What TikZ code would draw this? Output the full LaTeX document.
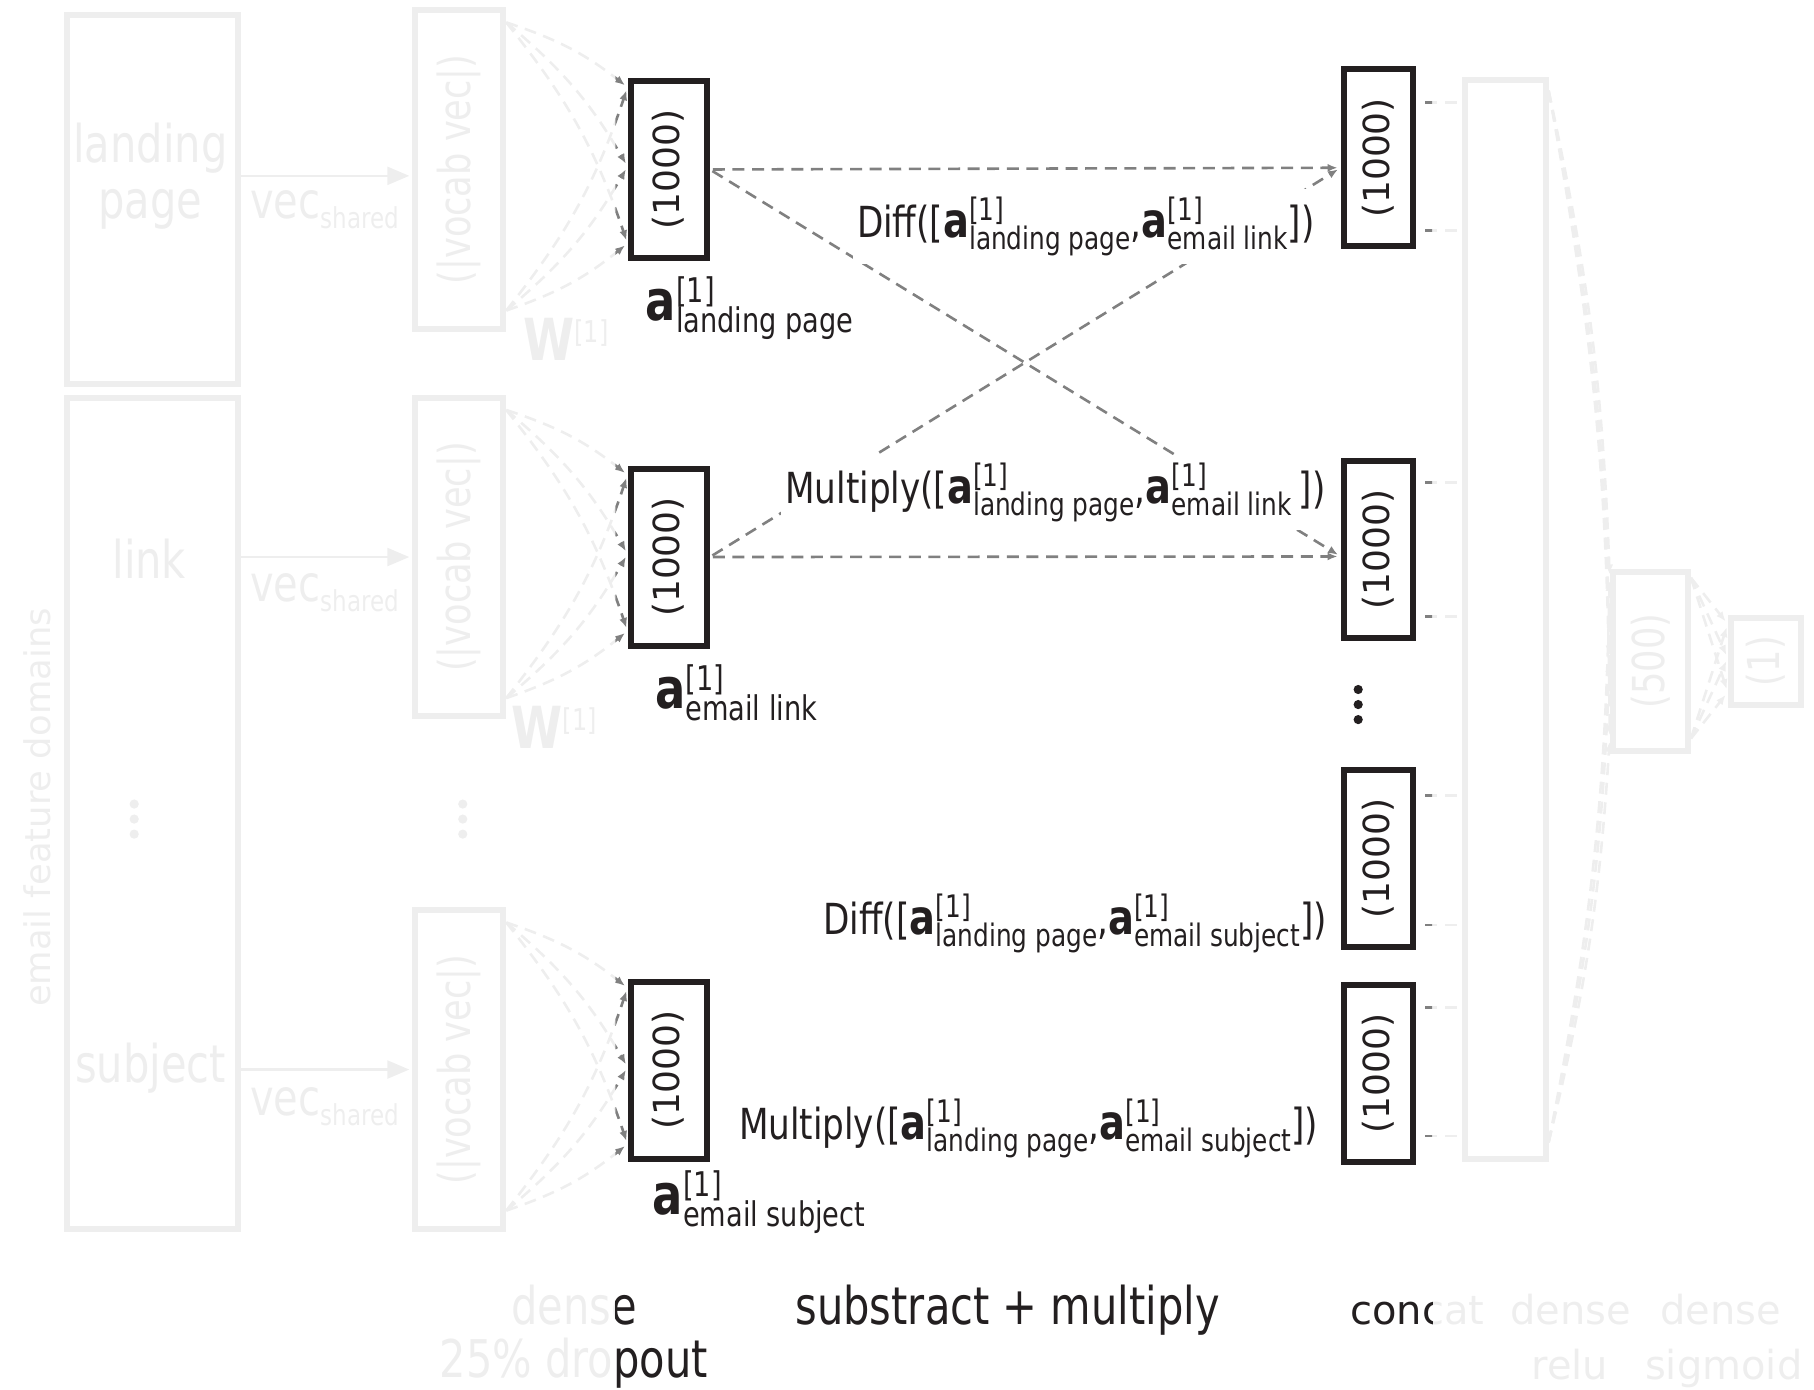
\documentclass[tikz,border=0pt]{standalone}
\usepackage{fontspec}
\usepackage{graphicx}
\setmainfont{DejaVu Sans}
\newfontfamily\cnd[FakeStretch=0.8]{DejaVu Sans}
\usetikzlibrary{calc,arrows.meta}
\newdimen\pxu \pxu=0.5785pt
\newcommand\fsz[1]{\fontsize{#1}{#1}\selectfont}
\definecolor{dk}{HTML}{231F20}
\definecolor{gl}{HTML}{808080}
\definecolor{fd}{HTML}{EEEEEE}
\definecolor{fdl}{HTML}{EEEEEE}
\colorlet{txc}{fd}\colorlet{bxc}{fd}\colorlet{dlc}{fdl}

\newcommand\asub[1]{{\cnd\bfseries\fsz{28}a}{\cnd\fsz{17}\rlap{\raisebox{9pt}{[1]}}\raisebox{-6pt}{#1}}}
\newcommand\ain[1]{{\bfseries\fsz{24}a}{\fsz{15.5}\rlap{\raisebox{8.5pt}{[1]}}\raisebox{-6pt}{#1}}}
\newcommand\oplab[3]{{\cnd\fsz{21.4}#1([\ain{landing page},\ain{#2}#3])}}
\newcommand\vocab{{\cnd\fsz{22}(|vocab vec|)}}
\newcommand\vecs{{\cnd\fsz{25}vec}{\cnd\fsz{14.4}\raisebox{-5pt}{shared}}}
\newcommand\wlab{{\cnd\bfseries\fsz{29}W}{\cnd\fsz{15}\raisebox{9pt}{[1]}}}
\newcommand\num[1]{\rotatebox{90}{\fsz{18}#1}}

\tikzset{
  bbox/.style={draw=bxc, line width=3pt, fill=white, inner sep=0pt, text=txc},
  txt/.style={inner sep=0pt, text=txc},
  lab/.style={fill=white, inner xsep=2pt, inner ysep=4pt, text=txc},
  dl/.style={draw=dlc, line width=1.3pt, dash pattern=on 6pt off 3.8pt},
  tip/.style={-{Latex[length=5pt,width=4pt]}, shorten >=1.6pt},
  arr/.style={draw=bxc, line width=1.2pt, -{Triangle[length=11pt,width=9pt]}, shorten >=1.5pt},
}

\newcommand\scene{%
  % faded input boxes
  \node[bbox, minimum width=148\pxu, minimum height=319\pxu] (LP) at (132,172.5) {};
  \node[bbox, minimum width=148\pxu, minimum height=718\pxu] (LS) at (132,703) {};
  \node[txt, align=center, font=\cnd\fontsize{26}{28}\selectfont] (tLP) at (130,152) {landing\\page};
  \node[txt, font=\cnd\fsz{26}] (tLK) at (129,483) {link};
  \node[txt, font=\cnd\fsz{26}] (tSB) at (130,923) {subject};
  \node[txt, rotate=90, font=\fsz{17.7}] (tEF) at (32,698) {email feature domains};
  \fill[bxc] (116,695) circle (2.3pt) (116,708) circle (2.3pt) (116,721) circle (2.3pt);
  \fill[bxc] (400,695) circle (2.3pt) (400,708) circle (2.3pt) (400,721) circle (2.3pt);
  % vocab boxes
  \node[bbox, minimum width=76\pxu, minimum height=275\pxu] (V1) at (397,146.5) {\rotatebox{90}{\vocab}};
  \node[bbox, minimum width=76\pxu, minimum height=275\pxu] (V2) at (397,481.5) {\rotatebox{90}{\vocab}};
  \node[bbox, minimum width=76\pxu, minimum height=275\pxu] (V3) at (397,924.5) {\rotatebox{90}{\vocab}};
  \coordinate (v1in) at ($(V1.west)+(0,5.5)$);
  \draw[arr] (LP.east |- v1in) -- (v1in);
  \draw[arr] (LS.east |- V2.west) -- (V2.west);
  \draw[arr] (LS.east |- V3.west) -- (V3.west);
  \node[txt, anchor=base west] (vs1) at (216,189) {\vecs};
  \node[txt, anchor=base west] (vs2) at (216,520) {\vecs};
  \node[txt, anchor=base west] (vs3) at (216,964) {\vecs};
  \node[txt, anchor=base west] (W1) at (452,312) {\wlab};
  \node[txt, anchor=base west] (W2) at (442,647) {\wlab};
  % embedding boxes
  \node[bbox, minimum width=66\pxu, minimum height=153\pxu] (A) at (578,146.5) {\num{(1000)}};
  \node[bbox, minimum width=66\pxu, minimum height=153\pxu] (B) at (578,481.5) {\num{(1000)}};
  \node[bbox, minimum width=66\pxu, minimum height=153\pxu] (C) at (578,925) {\num{(1000)}};
  % combined boxes
  \node[bbox, minimum width=60\pxu, minimum height=153\pxu] (R1) at (1191.5,136.5) {\num{(1000)}};
  \node[bbox, minimum width=60\pxu, minimum height=153\pxu] (R2) at (1191.5,475) {\num{(1000)}};
  \node[bbox, minimum width=60\pxu, minimum height=153\pxu] (R3) at (1191.5,742) {\num{(1000)}};
  \node[bbox, minimum width=60\pxu, minimum height=153\pxu] (R4) at (1191.5,928) {\num{(1000)}};
  \fill[bxc] (1174,596) circle (2.3pt) (1174,609) circle (2.3pt) (1174,622) circle (2.3pt);
  % concat and dense
  \node[bbox, minimum width=70\pxu, minimum height=933\pxu] (CC) at (1301,535.5) {};
  \node[bbox, minimum width=65\pxu, minimum height=155\pxu] (D5) at (1426.5,571.5) {\rotatebox{90}{\cnd\fsz{22}(500)}};
  \node[bbox, minimum width=61\pxu, minimum height=75\pxu] (D1) at (1526.5,571.5) {\rotatebox{90}{\cnd\fsz{22}(1)}};
  % fan lines vocab -> embeddings (slightly curved)
  \foreach \V/\E in {V1/A, V2/B, V3/C} {
    \coordinate (\V s1) at ($(\V.north east)+(0,13)$);
    \coordinate (\V s2) at ($(\V.north east)+(0,262)$);
    \foreach \t in {8,76.5,143} {
      \coordinate (\E t) at ($(\E.north west)+(0,\t)$);
      \draw[dl,tip] (\V s1) to[bend left=10] (\E t);
      \draw[dl,tip] (\V s2) to[bend right=10] (\E t);
    }
  }
  % substract / multiply lines
  \draw[dl,tip,shorten <=1.5pt] (A.east) -- ($(R1.west)+(0,8.5)$);
  \draw[dl,tip,shorten <=1.5pt] (A.east) -- ($(R2.west)+(0,6)$);
  \draw[dl,tip,shorten <=1.5pt] (B.east) -- ($(R1.west)+(0,8.5)$);
  \draw[dl,tip,shorten <=1.5pt] (B.east) -- ($(R2.west)+(0,6)$);
  % to concat
  \foreach \R/\a/\b in {R1/31/142, R2/21/137, R3/24.5/136.5, R4/22/133} {
    \coordinate (\R a) at ($(\R.north east)+(8,\a)$);
    \coordinate (\R b) at ($(\R.north east)+(8,\b)$);
    \draw[dl] (\R a) -- (\R a -| CC.west);
    \draw[dl] (\R b) -- (\R b -| CC.west);
  }
  \coordinate (cs1) at ($(CC.north east)+(0,12)$);
  \coordinate (cs2) at ($(CC.north east)+(0,921)$);
  \foreach \t in {8,78,147} {
    \coordinate (dt) at ($(D5.north west)+(0,\t)$);
    \draw[dl,tip] (cs1) to[bend left=5] (dt);
    \draw[dl,tip] (cs2) to[bend right=5] (dt);
  }
  \foreach \s in {8,147} \foreach \t in {8,37.5,67}
    \draw[dl,tip] ($(D5.north east)+(0,\s)$) -- ($(D1.north west)+(0,\t)$);
  % labels
  \node[txt, anchor=base west] (aLP) at (558,277) {\asub{landing page}};
  \node[txt, anchor=base west] (aEL) at (566,612) {\asub{email link}};
  \node[txt, anchor=base west] (aES) at (564,1050) {\asub{email subject}};
  \node[lab, anchor=base west] (L1) at (737,205) {\oplab{Diff}{email link}{}};
  \node[lab, anchor=base west] (L2) at (675,435) {\oplab{Multiply}{email link}{\,}};
  \node[lab, anchor=base west] (L3) at (708,808) {\oplab{Diff}{email subject}{}};
  \node[lab, anchor=base west] (L4) at (635,985) {\oplab{Multiply}{email subject}{}};
  % bottom captions
  \node[txt, anchor=base, font=\cnd\fsz{26}] (bD) at (496,1145) {dense};
  \node[txt, anchor=base, font=\cnd\fsz{26}] (bDr) at (496,1191) {25\% dropout};
  \node[txt, anchor=base, font=\cnd\fsz{26}] (bSM) at (871,1145) {substract + multiply};
  \node[txt, anchor=base west, font=\fsz{20}] (bCC) at (1167,1145) {concat};
  \node[txt, anchor=base west, font=\fsz{20}] (bD2) at (1305,1145) {dense};
  \node[txt, anchor=base west, font=\fsz{20}] (bD3) at (1435,1145) {dense};
  \node[txt, anchor=base, font=\fsz{20}] (bRL) at (1357,1192) {relu};
  \node[txt, anchor=base, font=\fsz{20}] (bSG) at (1490,1192) {sigmoid};
}

\begin{document}
\begin{tikzpicture}[x=\pxu,y=-\pxu]
\useasboundingbox (0,0) rectangle (1568,1201);
\scene
\begin{scope}
  \clip (532,0) rectangle (1238,1201);
  \fill[white] (532,0) rectangle (1238,1201);
  \colorlet{txc}{dk}\colorlet{bxc}{dk}\colorlet{dlc}{gl}
  \scene
\end{scope}
\end{tikzpicture}
\end{document}
